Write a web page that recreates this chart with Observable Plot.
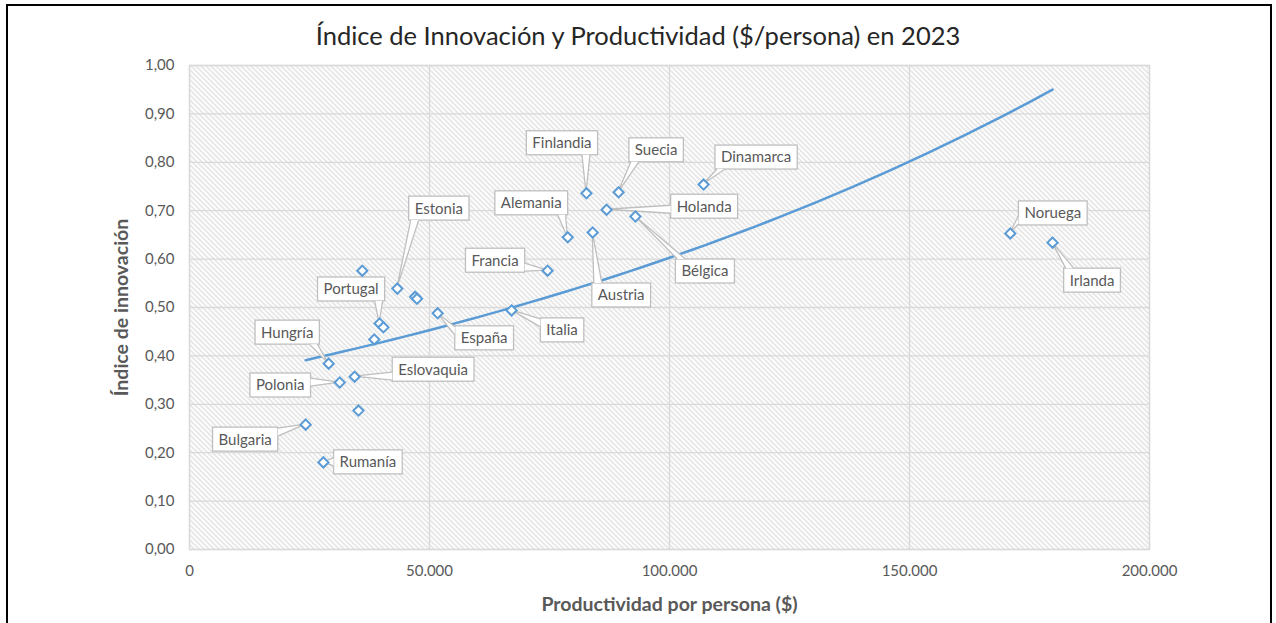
<!DOCTYPE html>
<html><head><meta charset="utf-8">
<script src="https://cdn.jsdelivr.net/npm/d3@7"></script>
<script src="https://cdn.jsdelivr.net/npm/@observablehq/plot@0.6"></script>
<style>
html,body{margin:0;padding:0;background:#fff;overflow:hidden;width:1276px;height:623px;}
#border{position:absolute;left:6px;top:4px;width:1266px;height:700px;border:2px solid #000;box-sizing:border-box;}
#title{position:absolute;left:0;top:20px;width:1276px;text-align:center;font-family:Lato,sans-serif;font-size:25.5px;line-height:30px;color:#262626;}
#chart{position:absolute;left:0;top:55px;}
</style>
</head><body>
<div id="border"></div>
<div id="title">Índice de Innovación y Productividad ($/persona) en 2023</div>
<div id="chart"></div>
<script>
// ---- data ----
const paises = ["Bulgaria","Rumanía","Hungría","Polonia","Eslovaquia","Portugal","España","Italia","Estonia","Francia","Alemania","Austria","Finlandia","Holanda","Suecia","Bélgica","Dinamarca","Noruega","Irlanda",null,null,null,null,null,null];
const productividad = [24200,27900,29000,31300,34400,39600,51700,67100,43300,74600,78800,84000,82700,86900,89400,92900,107100,171000,179800,35200,36000,47000,47400,40400,38500];
const innovacion = [0.258,0.180,0.384,0.345,0.357,0.467,0.488,0.494,0.539,0.576,0.645,0.655,0.736,0.702,0.738,0.688,0.754,0.653,0.634,0.287,0.576,0.522,0.518,0.459,0.434];
const xTicks = [0,50000,100000,150000,200000];
const yTicks = [0,0.1,0.2,0.3,0.4,0.5,0.6,0.7,0.8,0.9,1.0];

// ---- layout: label callout offsets (px, from the point) ----
const labelOffsets = {
  "Bulgaria":[-60,15],"Rumanía":[45,0],"Hungría":[-41,-31],"Polonia":[-59,3],"Eslovaquia":[79,-7],
  "Portugal":[-28,-34],"España":[47,25],"Italia":[51,20],"Estonia":[42,-80],"Francia":[-52,-10],
  "Alemania":[-36,-34],"Austria":[29,63],"Finlandia":[-24,-50],"Holanda":[98,-3],"Suecia":[38,-42],
  "Bélgica":[70,55],"Dinamarca":[53,-27],"Noruega":[43,-20],"Irlanda":[40,38]
};

const data = paises.map((p,i)=>({pais:p, x:productividad[i], y:innovacion[i]}));

// exponential trend line (least squares on ln y), as in the spreadsheet
const lnY = innovacion.map(Math.log);
const mx = d3.mean(productividad), ml = d3.mean(lnY);
const b = d3.sum(productividad,(x,i)=>(x-mx)*(lnY[i]-ml)) / d3.sum(productividad,x=>(x-mx)**2);
const a = Math.exp(ml - b*mx);
const [x0,x1] = d3.extent(productividad);
const trend = d3.range(0,61).map(i=>{const x = x0+(x1-x0)*i/60; return {x, y:a*Math.exp(b*x)};});

const es = d3.formatLocale({decimal:",",thousands:".",grouping:[3],currency:["","$"]});
const fx = es.format(",d"), fy = es.format(".2f");

const chart = Plot.plot({
  width:1276, height:568,
  marginLeft:189, marginRight:127, marginTop:10, marginBottom:74,
  style:{fontFamily:"Lato, sans-serif", fontSize:"15px", color:"#595959", background:"transparent", overflow:"visible"},
  x:{domain:[0,200000]},
  y:{domain:[0,1]},
  marks:[
    Plot.frame({fill:"white"}),
    Plot.gridX(xTicks,{stroke:"#d9d9d9", strokeOpacity:1, strokeWidth:1.3}),
    Plot.gridY(yTicks,{stroke:"#d9d9d9", strokeOpacity:1, strokeWidth:1.3}),
    Plot.frame({stroke:"#d9d9d9", strokeWidth:1.3}),
    Plot.axisX(xTicks,{tickSize:0, tickPadding:16, tickFormat:fx, label:"Productividad por persona ($)", labelAnchor:"center", labelOffset:61, labelArrow:"none", fill:"#595959"}),
    Plot.axisY(yTicks,{tickSize:0, tickPadding:15, tickFormat:fy, label:"Índice de innovación", labelAnchor:"center", labelOffset:75, labelArrow:"none", fill:"#595959"}),
    Plot.line(trend,{x:"x", y:"y", stroke:"#5B9BD5", strokeWidth:2.5}),
    Plot.dot(data,{x:"x", y:"y", symbol:"diamond2", r:4.6, stroke:"#5B9BD5", fill:"white", strokeWidth:2})
  ]
});
document.getElementById("chart").appendChild(chart);
const svg = d3.select(chart);

// hatch pattern for the plot area
const defs = svg.insert("defs",":first-child");
const pat = defs.append("pattern").attr("id","hatch").attr("patternUnits","userSpaceOnUse").attr("width",5).attr("height",5);
pat.append("rect").attr("width",5).attr("height",5).attr("fill","#fff");
pat.append("path").attr("d","M-1,-1L6,6M-1,4L1,6M4,-1L6,1").attr("stroke","#d6d6d6").attr("stroke-width",1.1);
const frameEl = svg.select('[aria-label="frame"]').node();
const frameRect = frameEl.tagName.toLowerCase()==="rect" ? d3.select(frameEl) : d3.select(frameEl).select("rect");
frameRect.attr("fill","url(#hatch)");

svg.selectAll('g[aria-label="x-axis label"] text, g[aria-label="y-axis label"] text')
  .attr("font-weight","bold").attr("font-size","19.5px").attr("fill","#595959");

// callouts
const sx = chart.scale("x"), sy = chart.scale("y");
const cg = svg.append("g").attr("font-family","Lato, sans-serif").attr("font-size",15);
data.forEach(d=>{
  if(!d.pais) return;
  const px = sx.apply(d.x), py = sy.apply(d.y);
  const [ox,oy] = labelOffsets[d.pais];
  const cx = px+ox, cy = py+oy;
  const g = cg.append("g");
  const rect = g.append("rect");
  const wedge = g.append("path");
  const t = g.append("text").attr("x",cx).attr("y",cy).attr("dy","0.36em").attr("text-anchor","middle").attr("fill","#595959").text(d.pais);
  const w = t.node().getComputedTextLength()+12, h = 24;
  const L = cx-w/2, R = cx+w/2, T = cy-h/2, B = cy+h/2;
  rect.attr("x",L).attr("y",T).attr("width",w).attr("height",h).attr("fill","white").attr("stroke","#bfbfbf").attr("stroke-width",1.3);
  const gx = px<L ? L-px : px>R ? px-R : 0;
  const gy = py<T ? T-py : py>B ? py-B : 0;
  let p1,p2;
  if(gx>gy){
    const ex = px<L ? L : R; const by = Math.max(T+5, Math.min(B-5, py));
    p1=[ex,by-4]; p2=[ex,by+4];
  } else {
    const ey = py<T ? T : B; const bx = Math.max(L+6, Math.min(R-6, px));
    p1=[bx-4,ey]; p2=[bx+4,ey];
  }
  wedge.attr("d",`M${p1}L${px},${py}L${p2}`).attr("fill","white").attr("stroke","#bfbfbf").attr("stroke-width",1.3);
});
svg.select('g[aria-label="dot"]').raise();
</script>
</body></html>
